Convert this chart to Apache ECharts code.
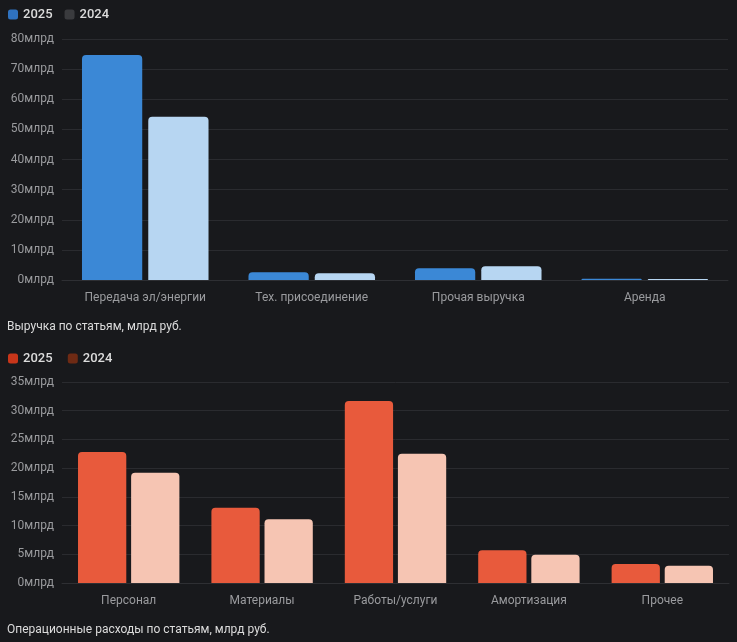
<!DOCTYPE html>
<html>
<head>
<meta charset="utf-8">
<script src="https://cdn.jsdelivr.net/npm/echarts@6/dist/echarts.min.js"></script>
<style>
	html, body { margin: 0; padding: 0; background: #18191c; }
	#chart { width: 737px; height: 642px; }
</style>
</head>
<body>
<div id="chart"></div>
<script>
// выручка
var revCats = ['Передача эл/энергии', 'Тех. присоединение', 'Прочая выручка', 'Аренда'];
var rev2025 = [74.7, 2.6, 3.9, 0.4];
var rev2024 = [54.2, 2.2, 4.6, 0.3];
// операционные расходы
var costCats = ['Персонал', 'Материалы', 'Работы/услуги', 'Амортизация', 'Прочее'];
var cost2025 = [22.8, 13.1, 31.7, 5.7, 3.3];
var cost2024 = [19.2, 11.1, 22.5, 4.9, 3.0];
var years = ['2025', '2024'];

var axisLabelStyle = {
	color: '#9a9b9e',
	fontSize: 12,
	formatter: '{value}млрд'
};
var splitStyle = { lineStyle: { color: '#2a2b2f' } };

function bars(name, data, colorLegend, colorBar, idx) {
	return {
		name: name,
		type: 'bar',
		xAxisIndex: idx,
		yAxisIndex: idx,
		barGap: '10%',
		barCategoryGap: '24%',
		itemStyle: { color: colorLegend },
		data: data.map(function(v) {
			return { value: v, itemStyle: { color: colorBar, borderRadius: [4, 4, 0, 0] } };
		})
	};
}

var chart = echarts.init(document.getElementById('chart'));
chart.setOption({
	backgroundColor: '#18191c',
	animation: false,
	textStyle: { fontFamily: 'Roboto, "Noto Sans", sans-serif' },
	title: [{
		text: 'Выручка по статьям, млрд руб.',
		left: 2, top: 316,
		textStyle: { color: '#dcdcdc', fontSize: 12, fontWeight: 'normal' }
	}, {
		text: 'Операционные расходы по статьям, млрд руб.',
		left: 2, top: 619,
		textStyle: { color: '#dcdcdc', fontSize: 12, fontWeight: 'normal' }
	}],
	legend: [{
		data: [
			{ name: '2025', itemStyle: { color: '#2f72c0' } },
			{ name: '2024', itemStyle: { color: '#3a3b3e' } }
		],
		left: 3, top: 3,
		itemWidth: 10, itemHeight: 10, itemGap: 12,
		icon: 'roundRect',
		textStyle: { color: '#dcdcdc', fontSize: 13, fontWeight: 500 }
	}, {
		data: [
			{ name: '2025 ', itemStyle: { color: '#c8361a' } },
			{ name: '2024 ', itemStyle: { color: '#6e2a14' } }
		],
		left: 3, top: 347,
		itemWidth: 10, itemHeight: 10, itemGap: 12,
		icon: 'roundRect',
		textStyle: { color: '#dcdcdc', fontSize: 13, fontWeight: 500 }
	}],
	grid: [
		{ left: 62, right: 9, top: 39, bottom: 362 },
		{ left: 62, right: 8, top: 382, bottom: 59 }
	],
	xAxis: [{
		type: 'category', gridIndex: 0, data: revCats,
		axisTick: { show: false },
		axisLine: { lineStyle: { color: '#2e2f33' } },
		axisLabel: { color: '#9a9b9e', fontSize: 12, margin: 12 }
	}, {
		type: 'category', gridIndex: 1, data: costCats,
		axisTick: { show: false },
		axisLine: { lineStyle: { color: '#2e2f33' } },
		axisLabel: { color: '#9a9b9e', fontSize: 12, margin: 12 }
	}],
	yAxis: [{
		type: 'value', gridIndex: 0, min: 0, max: 80, interval: 10,
		axisLabel: axisLabelStyle, splitLine: splitStyle
	}, {
		type: 'value', gridIndex: 1, min: 0, max: 35, interval: 5,
		axisLabel: axisLabelStyle, splitLine: splitStyle
	}],
	series: [
		bars(years[0], rev2025, '#2f72c0', '#3b88d6', 0),
		bars(years[1], rev2024, '#3a3b3e', '#b7d6f2', 0),
		bars(years[0] + ' ', cost2025, '#c8361a', '#e85a3c', 1),
		bars(years[1] + ' ', cost2024, '#6e2a14', '#f6c5b3', 1)
	]
});
</script>
</body>
</html>
